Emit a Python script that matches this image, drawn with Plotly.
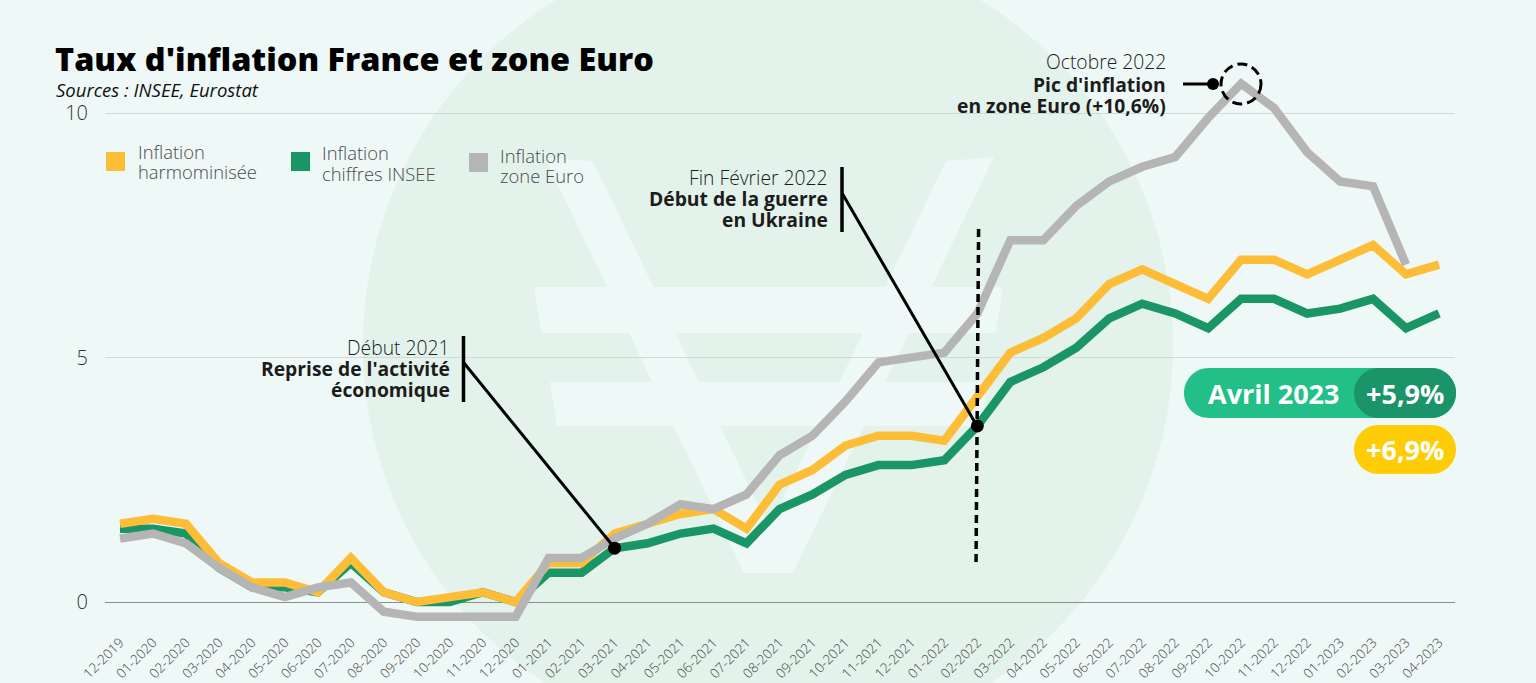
import numpy as np
import plotly.graph_objects as go

months = ["12-2019","01-2020","02-2020","03-2020","04-2020","05-2020","06-2020","07-2020","08-2020","09-2020","10-2020","11-2020","12-2020",
          "01-2021","02-2021","03-2021","04-2021","05-2021","06-2021","07-2021","08-2021","09-2021","10-2021","11-2021","12-2021",
          "01-2022","02-2022","03-2022","04-2022","05-2022","06-2022","07-2022","08-2022","09-2022","10-2022","11-2022","12-2022",
          "01-2023","02-2023","03-2023","04-2023"]
harmonisee = [1.6,1.7,1.6,0.8,0.4,0.4,0.2,0.9,0.2,0.0,0.1,0.2,0.0,
              0.8,0.8,1.4,1.6,1.8,1.9,1.5,2.4,2.7,3.2,3.4,3.4,
              3.3,4.2,5.1,5.4,5.8,6.5,6.8,6.5,6.2,7.0,7.0,6.7,
              7.0,7.3,6.7,6.9]
insee = [1.5,1.5,1.4,0.7,0.3,0.3,0.2,0.8,0.2,0.0,0.0,0.2,0.0,
         0.6,0.6,1.1,1.2,1.4,1.5,1.2,1.9,2.2,2.6,2.8,2.8,
         2.9,3.6,4.5,4.8,5.2,5.8,6.1,5.9,5.6,6.2,6.2,5.9,
         6.0,6.2,5.6,5.9]
euro = [1.3,1.4,1.2,0.7,0.3,0.1,0.3,0.4,-0.2,-0.3,-0.3,-0.3,-0.3,
        0.9,0.9,1.3,1.6,2.0,1.9,2.2,3.0,3.4,4.1,4.9,5.0,
        5.1,5.9,7.4,7.4,8.1,8.6,8.9,9.1,9.9,10.6,10.1,9.2,
        8.6,8.5,6.9,None]
event_months = ["03-2021","02-2022"]
event_values = [1.1,3.6]
y_ticks = [0,5,10]

W, H = 1536, 683
L, R, T, B = 105, 1455, 50, 628
X0_PX, DX_PX = 120.0, 32.975
Y0_PX, DY_PX = 602.0, 48.9

def fx(p): return (p - L) / (R - L)
def fy(p): return (B - p) / (B - T)

FONT = "Open Sans"
BG = "#EEF8F6"; CIRCLE = "#E3F2EB"
YEL = "#FDBD36"; GRN = "#1A9566"; GRY = "#B5B5B5"

def poly(pts, fill):
    d = "M" + " L".join(f"{fx(x):.5f},{fy(y):.5f}" for x, y in pts) + " Z"
    return dict(type="path", xref="paper", yref="paper", path=d, fillcolor=fill,
                line=dict(width=0), layer="below")

def pill(x0, y0, x1, y1, fill, layer="below"):
    r = (y1 - y0) / 2
    t = np.linspace(-np.pi/2, np.pi/2, 30)
    pts = [(x1 - r + r*np.cos(a), y0 + r + r*np.sin(a)) for a in t]
    pts += [(x0 + r - r*np.cos(a), y0 + r - r*np.sin(a)) for a in t]
    s = poly(pts, fill); s["layer"] = layer
    return s

def seg(x0, y0, x1, y1, width=3, dash="solid"):
    return dict(type="line", xref="paper", yref="paper", x0=fx(x0), y0=fy(y0), x1=fx(x1), y1=fy(y1),
                line=dict(color="black", width=width, dash=dash), layer="above")

shapes = [
    dict(type="circle", xref="paper", yref="paper", x0=fx(768-405), x1=fx(768+405), y0=fy(345+405), y1=fy(345-405),
         fillcolor=CIRCLE, line=dict(width=0), layer="below"),
    poly([(545,158),(593,161),(769,528),(946,161),(994,157),(793,573),(744,573)], BG),
    poly([(534,287),(1003,287),(996,333),(541,333)], BG),
    poly([(550,382),(988,382),(981,426),(557,426)], BG),
    poly([(106,152),(125,152),(125,171),(106,171)], YEL),
    poly([(291,152),(310,152),(310,171),(291,171)], GRN),
    poly([(469,153),(488,153),(488,172),(469,172)], GRY),
    pill(1184,368,1456,418,"#22C088"),
    pill(1354,368,1456,418,"#1A9468"),
    pill(1354,425,1456,474,"#FFCD07"),
    seg(463.5,336,463.5,402,3.5),
    seg(464,363,614.6,548),
    seg(842,167,842,232,3.5),
    seg(842,193,977,426),
    seg(978.6,229,976,567,3.5,"8px,5px"),
    seg(1183,84,1213,84),
    dict(type="circle", xref="paper", yref="paper", x0=fx(1221), x1=fx(1261), y0=fy(104), y1=fy(64),
         line=dict(color="black", width=3, dash="10px,5px"), fillcolor="rgba(0,0,0,0)", layer="above"),
    dict(type="circle", xref="paper", yref="paper", x0=fx(1207), x1=fx(1219), y0=fy(90), y1=fy(78),
         line=dict(width=0), fillcolor="black", layer="above"),
]

def txt(x, y, s, size=19.3, color="#1c1c1c", anchor="right", weight=300):
    x = x + {"right": 2, "left": -2, "center": 0}[anchor]
    return dict(xref="paper", yref="paper", x=fx(x), y=fy(y), text=s, showarrow=False, xanchor=anchor,
                yanchor="middle", align=anchor,
                font=dict(family=FONT, size=size, color=color, weight=weight))

LEG = dict(size=18.4, color="#4a4a4a", anchor="left")
annotations = [
    txt(56,89,"<i>Sources : INSEE, Eurostat</i>",18.5,"#111","left",400),
    txt(138,151,"Inflation",**LEG), txt(138,171,"harmominisée",**LEG),
    txt(322,153,"Inflation",**LEG), txt(322,173,"chiffres INSEE",**LEG),
    txt(500,155,"Inflation",**LEG), txt(500,175,"zone Euro",**LEG),
    txt(450,347,"Début 2021"),
    txt(450,368,"Reprise de l'activité",weight=700),
    txt(450,389,"économique",weight=700),
    txt(828,177,"Fin Février 2022"),
    txt(828,198,"Début de la guerre",weight=700),
    txt(828,220,"en Ukraine",weight=700),
    txt(1166,62,"Octobre 2022"),
    txt(1166,84,"Pic d'inflation",weight=700),
    txt(1166,105,"en zone Euro (+10,6%)",weight=700),
    txt(1274,393,"Avril 2023",27,"white","center",700),
    txt(1405,393,"+5,9%",27,"white","center",700),
    txt(1405,450,"+6,9%",27,"white","center",700),
]

fig = go.Figure()
for name, vals, col in [("Inflation chiffres INSEE", insee, GRN),
                        ("Inflation harmominisée", harmonisee, YEL),
                        ("Inflation zone Euro", euro, GRY)]:
    fig.add_trace(go.Scatter(x=months, y=vals, mode="lines", name=name, showlegend=False,
                             line=dict(color=col, width=8.5), hoverinfo="x+y+name"))
fig.add_trace(go.Scatter(x=event_months, y=event_values, mode="markers", showlegend=False,
                         marker=dict(color="black", size=13), hoverinfo="skip"))

fig.update_layout(
    width=W, height=H, autosize=False,
    margin=dict(l=L, r=W-R, t=T, b=H-B, autoexpand=False),
    paper_bgcolor=BG, plot_bgcolor="rgba(0,0,0,0)",
    title=dict(text="Taux d'inflation France et zone Euro", x=55/W, y=1-60/H, xanchor="left", yanchor="middle",
               xref="container", yref="container", automargin=False,
               font=dict(family=FONT, size=32.4, color="black", weight=800)),
    xaxis=dict(type="category", categoryorder="array", categoryarray=months, tickvals=months, ticktext=months,
               range=[(L-X0_PX)/DX_PX, (R-X0_PX)/DX_PX], tickangle=-45, showgrid=False, zeroline=False, showline=False,
               ticks="", ticklabelstandoff=3, automargin=False,
               tickfont=dict(family=FONT, size=13.5, color="#444", weight=300)),
    yaxis=dict(range=[(Y0_PX-B)/DY_PX, (Y0_PX-T)/DY_PX], tickvals=y_ticks, showgrid=True, gridcolor="#CFDAD6", gridwidth=1,
               zeroline=True, zerolinecolor="#8C8C8C", zerolinewidth=1.2, showline=False, ticks="", ticklabelstandoff=16,
               automargin=False,
               tickfont=dict(family=FONT, size=20, color="#333", weight=300)),
    shapes=shapes, annotations=annotations, showlegend=False,
)
fig.write_html("out.html", config={"displayModeBar": False},
               post_script="document.body.style.margin='0';document.documentElement.style.background='%s';" % BG)
